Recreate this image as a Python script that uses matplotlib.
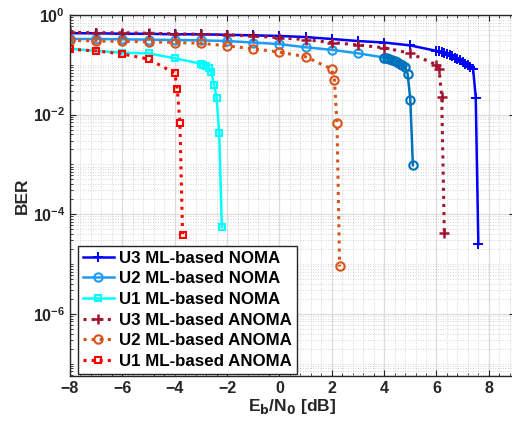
import numpy as np
import matplotlib
matplotlib.use("Agg")
import matplotlib.pyplot as plt
from matplotlib.ticker import MultipleLocator, LogLocator, FixedLocator

# BER curves
x_u3_noma = [-8, -7, -6, -5, -4, -3, -2, -1, 0, 1, 2, 3, 4, 5,
             6.0, 6.1, 6.2, 6.3, 6.4, 6.5, 6.6, 6.7, 6.8, 6.9, 7.0, 7.1, 7.2, 7.3, 7.4, 7.5, 7.6]
ber_u3_noma = [0.43, 0.43, 0.42, 0.42, 0.41, 0.41, 0.40, 0.39, 0.38, 0.36, 0.33, 0.30, 0.28, 0.245,
               0.19, 0.185, 0.178, 0.17, 0.163, 0.155, 0.147, 0.138, 0.13, 0.122, 0.114, 0.106,
               0.098, 0.091, 0.083, 0.022, 2.5e-5]

x_u2_noma = [-8, -7, -6, -5, -4, -3, -2, -1, 0, 1, 2, 3, 4]
ber_u2_noma = [0.33, 0.33, 0.325, 0.32, 0.315, 0.31, 0.30, 0.28, 0.26, 0.225, 0.20, 0.17, 0.14]
x_u2_noma_b = [4.0, 4.1, 4.2, 4.3, 4.4, 4.5, 4.6, 4.7, 4.8, 4.9, 5.0, 5.1]
ber_u2_noma_b = [0.14, 0.135, 0.13, 0.124, 0.118, 0.112, 0.105, 0.098, 0.09, 0.065, 0.02, 9.6e-4]

x_u1_noma = [-8, -7, -6, -5, -4, -3.0, -2.9, -2.8, -2.7, -2.6, -2.5, -2.4, -2.3, -2.2]
ber_u1_noma = [0.21, 0.19, 0.175, 0.17, 0.135, 0.105, 0.1, 0.093, 0.085, 0.072, 0.04, 0.022, 0.0043, 5.5e-5]

x_u3_anoma = [-8, -7, -6, -5, -4, -3, -2, -1, 0, 1, 2, 3, 4, 5, 6.0, 6.1, 6.2, 6.3]
ber_u3_anoma = [0.45, 0.44, 0.44, 0.43, 0.42, 0.41, 0.40, 0.38, 0.35, 0.32, 0.28, 0.25, 0.22, 0.17,
                0.10, 0.082, 0.023, 4.2e-5]

x_u2_anoma = [-8, -7, -6, -5, -4, -3, -2, -1, 0, 1, 2, 2.1, 2.2, 2.3]
ber_u2_anoma = [0.31, 0.30, 0.295, 0.29, 0.28, 0.27, 0.24, 0.21, 0.18, 0.145, 0.082, 0.05, 0.0069, 8.9e-6]

x_u1_anoma = [-8, -7, -6, -5, -4.0, -3.9, -3.8, -3.7]
ber_u1_anoma = [0.205, 0.19, 0.165, 0.13, 0.068, 0.032, 0.0068, 3.8e-5]

plt.rcParams['font.family'] = ['Liberation Sans', 'DejaVu Sans']
plt.rcParams['font.weight'] = 'bold'

fig = plt.figure(figsize=(5.12, 4.24), dpi=100)
ax = fig.add_axes([70 / 512, 48 / 424, 445 / 512, 361 / 424])

ax.semilogy(x_u3_noma, ber_u3_noma, '-', color='#0000FF', marker='+', ms=7, mew=1.4, lw=1.8,
            label='U3 ML-based NOMA')
ax.semilogy(x_u2_noma, ber_u2_noma, '-', color='#1E9BF5', marker='o', ms=6, mfc='none', mew=1.5,
            lw=1.8, label='U2 ML-based NOMA')
ax.semilogy(x_u2_noma_b, ber_u2_noma_b, '-', color='#0072BD', marker='o', ms=6, mfc='none',
            mew=1.5, lw=1.8)
ax.semilogy(x_u1_noma, ber_u1_noma, '-', color='#00FFFF', marker='s', ms=5, mfc='none', mew=1.5,
            lw=1.8, label='U1 ML-based NOMA')
ax.semilogy(x_u3_anoma, ber_u3_anoma, ':', color='#A2142F', marker='+', ms=7, mew=1.8, lw=2.2,
            label='U3 ML-based ANOMA')
ax.semilogy(x_u2_anoma, ber_u2_anoma, ':', color='#D95319', marker='o', ms=6, mfc='none',
            mew=1.5, lw=2.2, label='U2 ML-based ANOMA')
ax.semilogy(x_u1_anoma, ber_u1_anoma, ':', color='#FF0000', marker='s', ms=5, mfc='none',
            mew=1.5, lw=2.2, label='U1 ML-based ANOMA')

ax.set_xlim(-8, 9)
ax.set_ylim(10 ** -7.25, 1)
ax.xaxis.set_major_locator(FixedLocator([-8, -6, -4, -2, 0, 2, 4, 6, 8]))
ax.xaxis.set_minor_locator(MultipleLocator(0.4))
ax.yaxis.set_major_locator(FixedLocator([1e-6, 1e-4, 1e-2, 1]))
ax.yaxis.set_minor_locator(LogLocator(base=10, subs=np.arange(1, 10), numticks=20))
ax.yaxis.set_minor_formatter(plt.NullFormatter())

ax.grid(True, which='major', color='#DCDCDC', lw=0.9, ls='-')
ax.grid(True, which='minor', color='#C8C8C8', lw=0.6, ls=(0, (1, 2)))
ax.set_axisbelow(True)

ax.tick_params(which='both', direction='in', top=True, right=True, colors='#262626',
               labelsize=11.5)
ax.tick_params(which='major', length=4)
ax.tick_params(which='minor', length=2)
for s in ax.spines.values():
    s.set_color('#262626')
    s.set_linewidth(1.0)

ax.set_xlabel(r'E$_\mathbf{b}$/N$_\mathbf{0}$ [dB]', fontsize=12.5, fontweight='bold',
              color='#262626', labelpad=1)
ax.set_ylabel('BER', fontsize=12.5, fontweight='bold', color='#262626', labelpad=2)

leg = ax.legend(loc='lower left', bbox_to_anchor=(0.018, 0.006), fontsize=12.2, frameon=True,
                fancybox=False, edgecolor='#262626', framealpha=1, borderpad=0.3,
                labelspacing=0.33, handlelength=1.8, handletextpad=0.3, borderaxespad=0)
leg.get_frame().set_linewidth(1.0)
for t in leg.get_texts():
    t.set_fontweight('bold')

fig.savefig('out.png', dpi=100)
